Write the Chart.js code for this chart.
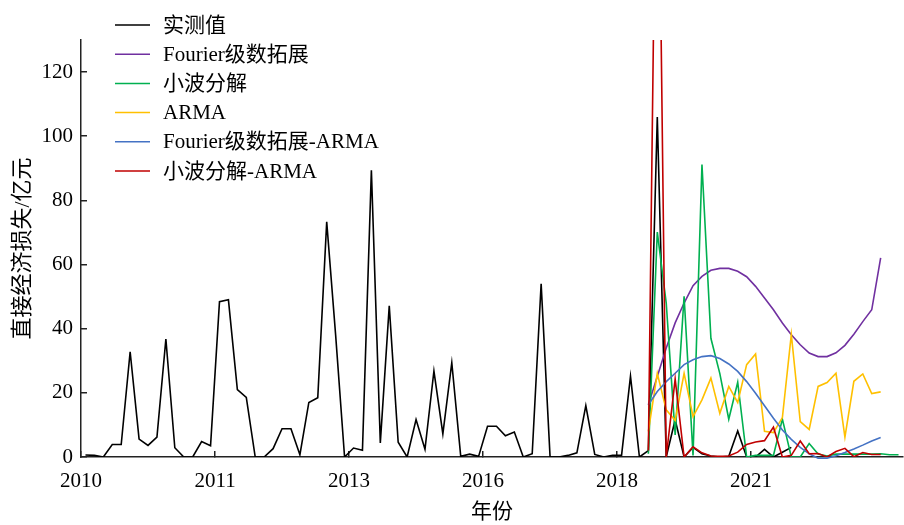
<!DOCTYPE html>
<html><head><meta charset="utf-8">
<script src="https://cdn.jsdelivr.net/npm/chart.js@4/dist/chart.umd.min.js"></script>
<style>html,body{margin:0;padding:0;background:#fff}#wrap{width:904px;height:525px}</style>
</head><body><div id="wrap"><canvas id="c" width="904" height="525"></canvas></div>
<script>
// ---- data ----
const seriesNames = ['实测值', 'Fourier级数拓展', '小波分解', 'ARMA', 'Fourier级数拓展-ARMA', '小波分解-ARMA'];
const tickLabels = ['2010', '2011', '2013', '2016', '2018', '2021'];
const yTicks = [0, 20, 40, 60, 80, 100, 120];
const observed = [
  0.6, 0.5, 0, 3.9, 3.9, 32.8, 5.6, 3.6, 6.2, 36.8,
  2.9, 0, 0, 4.8, 3.5, 48.4, 49, 21, 18.6, 0,
  0, 2.6, 8.8, 8.8, 0.7, 17, 18.5, 73.3, 38, 0,
  2.8, 2.1, 89.4, 4.4, 47.1, 4.6, 0, 11.7, 2.4, 26.8,
  7.2, 29.4, 0.2, 0.9, 0.2, 9.6, 9.6, 6.6, 7.8, 0,
  1, 54, 0, 0, 0.5, 1.3, 16, 0.8, 0, 0.5,
  0.5, 25.2, 0, 2, 106, 0, 11.6, 0, 3, 1,
  0.3, 0, 0.2, 8.1, 0, 0, 2.4, 0, 1.5, 3
];
const forecastStart = 63;
const fourier = [16.3, 25.1, 34, 41.8, 48, 53.4, 56.3, 58.2, 58.8, 58.8,
  57.9, 56.2, 53.2, 49.6, 45.9, 41.8, 38.1, 35, 32.4, 31.3,
  31.3, 32.5, 34.8, 38.3, 42.2, 45.9, 62.1];
const wavelet = [1, 70.1, 48, 6.9, 50.1, 0.5, 91.2, 37, 26, 11.8,
  23.3, 0, 0.5, 0.5, 0.5, 11.8, 0, 0, 4.2, 0.9,
  0.3, 0.9, 0.9, 0.9, 0.9, 0.9, 1, 0.7, 0.7];
const arma = [8, 26.1, 14.7, 11.4, 26.1, 12.6, 17.8, 24.6, 13.6, 22,
  17, 28.8, 32.1, 8, 7.6, 12.3, 38.2, 11, 8.6, 22,
  23.2, 26.1, 6.2, 23.6, 25.9, 19.8, 20.3];
const fourierArma = [16.3, 20.4, 23.5, 26.1, 28.8, 30.3, 31.3, 31.6, 30.7, 29,
  26.7, 23.5, 19.9, 16, 12.1, 8.4, 5.5, 3, 1, -0.4,
  -0.4, 0.4, 1.4, 2.5, 3.7, 5, 6.1];
const waveletArma = [2, 230, 0, 24.3, 0, 3.2, 1.3, 0.3, 0.2, 0.3,
  1.5, 3.9, 4.7, 5.1, 9.3, 0, 0.5, 5, 1, 1.1,
  0, 1.7, 2.7, 0.1, 1.4, 0.8, 0.8];
const colors = ['#000000', '#7030A0', '#00B050', '#FFC000', '#4472C4', '#C00000'];

// ---- build ----
const toPts = (arr, start) => arr.map((v, i) => ({x: start + i, y: v}));
const seriesData = [
  toPts(observed, 0), toPts(fourier, forecastStart), toPts(wavelet, forecastStart),
  toPts(arma, forecastStart), toPts(fourierArma, forecastStart), toPts(waveletArma, forecastStart)
];
const FONT = '"Liberation Serif", "Noto Sans CJK SC", serif';

const legendPlugin = {
  id: 'customLegend',
  afterDraw(chart) {
    const ctx = chart.ctx;
    ctx.save();
    ctx.font = '21px ' + FONT;
    ctx.textBaseline = 'middle';
    ctx.textAlign = 'left';
    chart.data.datasets.forEach((ds, i) => {
      const y = 25 + i * 29.2;
      ctx.strokeStyle = ds.borderColor;
      ctx.lineWidth = 1.5;
      ctx.beginPath(); ctx.moveTo(115, y); ctx.lineTo(150, y); ctx.stroke();
      ctx.fillStyle = '#000';
      ctx.fillText(ds.label, 163, y + 1);
    });
    ctx.restore();
  }
};

new Chart(document.getElementById('c'), {
  type: 'line',
  data: {
    datasets: seriesData.map((d, i) => ({
      label: seriesNames[i],
      data: d,
      borderColor: colors[i],
      backgroundColor: colors[i],
      borderWidth: 1.6,
      pointRadius: 0,
      tension: 0,
      order: 6 - i,
      clip: i === 4 ? false : undefined
    }))
  },
  options: {
    responsive: false,
    devicePixelRatio: 1,
    animation: false,
    layout: {padding: {top: 40, right: 1, left: 0, bottom: 0}},
    plugins: {legend: {display: false}, tooltip: {enabled: false}},
    scales: {
      x: {
        type: 'linear',
        min: -0.5, max: 91.5,
        afterBuildTicks: (ax) => { ax.ticks = tickLabels.map((_, k) => ({value: k * 15 - 0.5})); },
        afterFit: (ax) => { ax.height = 68; },
        ticks: {
          autoSkip: false, maxRotation: 0, color: '#000', padding: 18,
          font: {family: FONT, size: 21},
          callback: (v, idx) => tickLabels[idx]
        },
        grid: {drawOnChartArea: false, drawTicks: true, tickLength: -6, color: '#222', lineWidth: 1.5},
        border: {display: true, color: '#222', width: 1.5},
        title: {display: true, text: '年份', color: '#000', font: {family: FONT, size: 21}, padding: {top: 0, bottom: 0}}
      },
      y: {
        min: 0, max: 130,
        afterBuildTicks: (ax) => { ax.ticks = yTicks.map(v => ({value: v})); },
        afterFit: (ax) => { ax.width = 81; },
        ticks: {color: '#000', padding: 14, font: {family: FONT, size: 21}},
        grid: {drawOnChartArea: false, drawTicks: true, tickLength: -6, color: '#222', lineWidth: 1.5},
        border: {display: true, color: '#222', width: 1.5},
        title: {display: true, text: '直接经济损失/亿元', color: '#000', font: {family: FONT, size: 22}, padding: {top: 10, bottom: 0}}
      }
    }
  },
  plugins: [legendPlugin]
});
</script>
</body></html>
